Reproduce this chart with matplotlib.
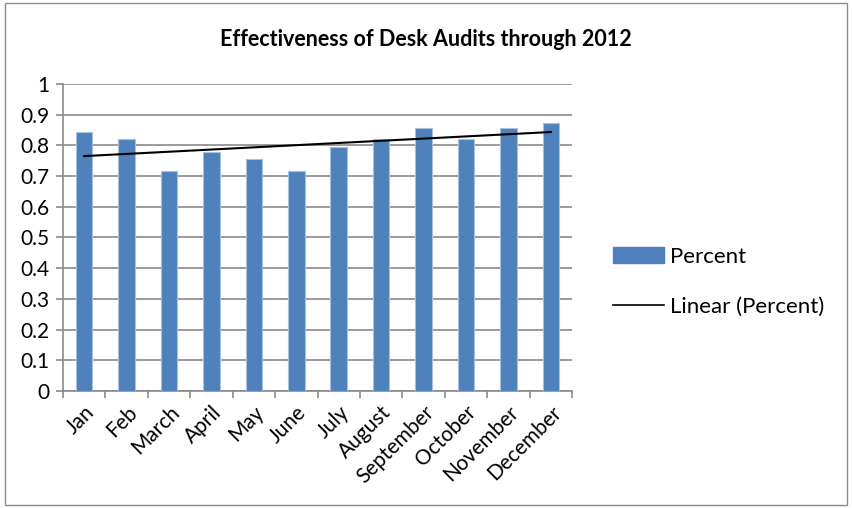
import numpy as np
import matplotlib
matplotlib.use("Agg")
from matplotlib import pyplot as plt
from matplotlib.patches import Patch, Rectangle
from matplotlib.lines import Line2D

months = ["Jan", "Feb", "March", "April", "May", "June", "July",
          "August", "September", "October", "November", "December"]
percent = [0.845, 0.82, 0.715, 0.78, 0.755, 0.715, 0.794,
           0.82, 0.858, 0.82, 0.858, 0.872]
yticks = [0, 0.1, 0.2, 0.3, 0.4, 0.5, 0.6, 0.7, 0.8, 0.9, 1]

plt.rcParams['font.family'] = ['Lato', 'DejaVu Sans']

fig = plt.figure(figsize=(8.52, 5.08), dpi=100)
# outer chart border
fig.patches.append(Rectangle((0.006, 0.006), 0.988, 0.988, transform=fig.transFigure,
                             fill=False, edgecolor="#8c8c8c", linewidth=1))

ax = fig.add_axes([63 / 852, 1 - 391 / 508, (572 - 63) / 852, (391 - 84) / 508])

x = np.arange(len(months))
ax.bar(x, percent, width=0.39, color="#4f81bd", edgecolor="#a7c0de", linewidth=0.8, zorder=3)

# linear trendline through the monthly values
k, b = np.polyfit(x, percent, 1)
ax.plot(x, k * x + b, color="black", linewidth=1.5, zorder=4)

ax.set_xlim(-0.5, len(months) - 0.5)
ax.set_ylim(0, 1)
ax.set_yticks(yticks)
ax.set_yticklabels([f"{v:g}" for v in yticks], fontsize=15)
ax.yaxis.grid(True, color="#8a8a8a", linewidth=1.2, zorder=0)
ax.set_axisbelow(True)

ax.set_xticks(x)
ax.set_xticklabels(months, rotation=45, ha="right", rotation_mode="anchor", fontsize=15)
ax.set_xticks(np.arange(len(months) + 1) - 0.5, minor=True)
ax.tick_params(axis="x", which="major", length=0, pad=8)
ax.tick_params(axis="x", which="minor", length=5, color="#8a8a8a", width=1.2)
ax.tick_params(axis="y", length=5, color="#8a8a8a", width=1.2, pad=5)

for side in ["top", "right"]:
    ax.spines[side].set_visible(False)
for side in ["left", "bottom"]:
    ax.spines[side].set_color("#8a8a8a")
    ax.spines[side].set_linewidth(1.2)

fig.text(0.5, 1 - 40 / 508, "Effectiveness of Desk Audits through 2012",
         ha="center", va="center", fontsize=15.5, fontweight="bold")

handles = [Patch(facecolor="#4f81bd", edgecolor="#4f81bd"),
           Line2D([0], [0], color="black", linewidth=1.2)]
fig.legend(handles, ["Percent", "Linear (Percent)"], loc="center left",
           bbox_to_anchor=(613 / 852, 1 - 282 / 508), frameon=False, fontsize=16,
           borderpad=0, borderaxespad=0, handlelength=2.3, handleheight=0.7,
           handletextpad=0.25, labelspacing=1.35)

fig.savefig("out.png", dpi=100)
